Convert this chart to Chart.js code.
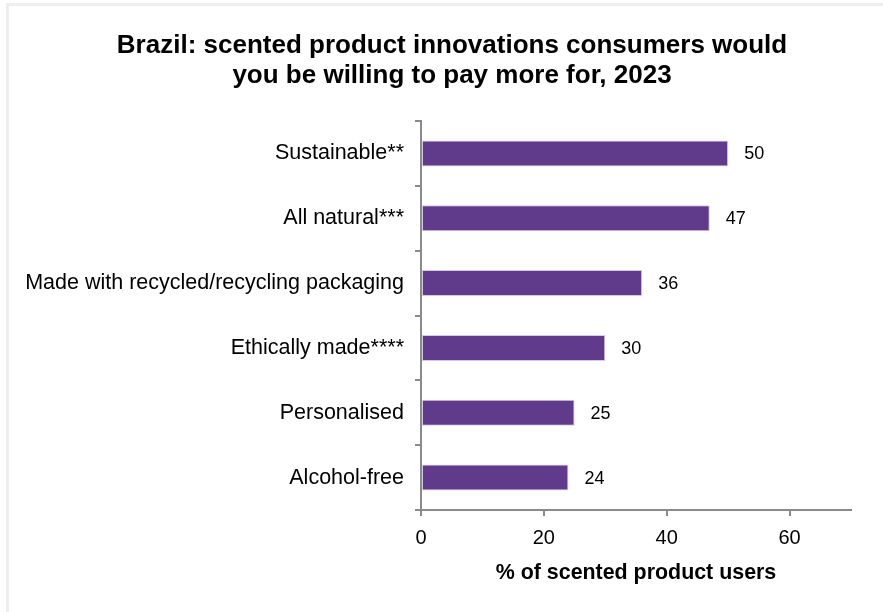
<!DOCTYPE html>
<html>
<head>
<meta charset="utf-8">
<script src="https://cdn.jsdelivr.net/npm/chart.js@4.4.0/dist/chart.umd.min.js"></script>
<style>
  html, body { margin: 0; padding: 0; background: #ffffff; }
  #wrap { position: relative; width: 883px; height: 612px; overflow: hidden; }
  #frame { position: absolute; left: 6px; top: 3px; right: -10px; bottom: -10px;
           border-top: 3px solid #eeeeee; border-left: 3px solid #eeeeee; }
  #chart { position: absolute; left: 0; top: 0; }
</style>
</head>
<body>
<div id="wrap">
  <div id="frame"></div>
  <canvas id="chart" width="883" height="612"></canvas>
</div>
<script>
// Scented product innovations Brazilian consumers would pay more for, 2023
const titleLines = [
  'Brazil: scented product innovations consumers would',
  'you be willing to pay more for, 2023'
];
const categories = [
  'Sustainable**',
  'All natural***',
  'Made with recycled/recycling packaging',
  'Ethically made****',
  'Personalised',
  'Alcohol-free'
];
const shareOfUsers = [50, 47, 36, 30, 25, 24];
const axisTitle = '% of scented product users';
const tickValues = [0, 20, 40, 60];
const axisMax = 70;

const FONT = "'Liberation Sans', Arial, sans-serif";
const AXIS_GREY = '#8a8a8a';

// Two-line heading, centred over the panel (which sits slightly right of the canvas centre)
const TITLE_CENTER_X = 452;
const TITLE_FIRST_LINE_Y = 46;
const TITLE_LINE_HEIGHT = 30;
const heading = {
  id: 'heading',
  afterDraw(chart) {
    const ctx = chart.ctx;
    ctx.save();
    ctx.font = 'bold 26px ' + FONT;
    ctx.fillStyle = '#000000';
    ctx.textAlign = 'center';
    ctx.textBaseline = 'middle';
    titleLines.forEach((line, i) => {
      ctx.fillText(line, TITLE_CENTER_X, TITLE_FIRST_LINE_Y + i * TITLE_LINE_HEIGHT);
    });
    ctx.restore();
  }
};

// Value labels printed just to the right of each bar
const valueLabels = {
  id: 'valueLabels',
  afterDatasetsDraw(chart) {
    const ctx = chart.ctx;
    const meta = chart.getDatasetMeta(0);
    ctx.save();
    ctx.font = '18px ' + FONT;
    ctx.fillStyle = '#000000';
    ctx.textAlign = 'left';
    ctx.textBaseline = 'middle';
    meta.data.forEach((bar, i) => {
      ctx.fillText(String(chart.data.datasets[0].data[i]), bar.x + 16, bar.y + 1);
    });
    ctx.restore();
  }
};

new Chart(document.getElementById('chart'), {
  type: 'bar',
  data: {
    labels: categories,
    datasets: [{
      data: shareOfUsers,
      backgroundColor: '#603a8b',
      borderColor: '#d6c9e4',
      borderWidth: 1,
      borderSkipped: false,
      barPercentage: 0.4,
      categoryPercentage: 1.0
    }]
  },
  options: {
    indexAxis: 'y',
    responsive: false,
    animation: false,
    devicePixelRatio: 1,
    layout: { padding: { left: 0, right: 32, top: 121, bottom: 0 } },
    plugins: {
      legend: { display: false },
      tooltip: { enabled: false },
      title: { display: false }
    },
    scales: {
      x: {
        min: 0,
        max: axisMax,
        afterBuildTicks(axis) {
          axis.ticks = tickValues.map(v => ({ value: v }));
        },
        afterFit(axis) { axis.height = 102; },
        grid: {
          drawOnChartArea: false,
          drawTicks: true,
          tickLength: 6,
          color: AXIS_GREY,
          lineWidth: 2
        },
        border: { color: AXIS_GREY, width: 2 },
        ticks: {
          color: '#000000',
          font: { family: FONT, size: 20 },
          padding: 10,
          maxRotation: 0
        },
        title: {
          display: true,
          text: axisTitle,
          color: '#000000',
          font: { family: FONT, size: 21.4, weight: 'bold', lineHeight: 1.2 },
          padding: { top: 0, bottom: 26 }
        }
      },
      y: {
        afterFit(axis) { axis.width = 421; },
        grid: {
          drawOnChartArea: false,
          drawTicks: true,
          tickLength: 6,
          offset: true,
          color: AXIS_GREY,
          lineWidth: 2
        },
        border: { color: AXIS_GREY, width: 2 },
        ticks: {
          color: '#000000',
          font: { family: FONT, size: 21.5 },
          padding: 11,
          autoSkip: false
        }
      }
    }
  },
  plugins: [valueLabels, heading]
});
</script>
</body>
</html>
